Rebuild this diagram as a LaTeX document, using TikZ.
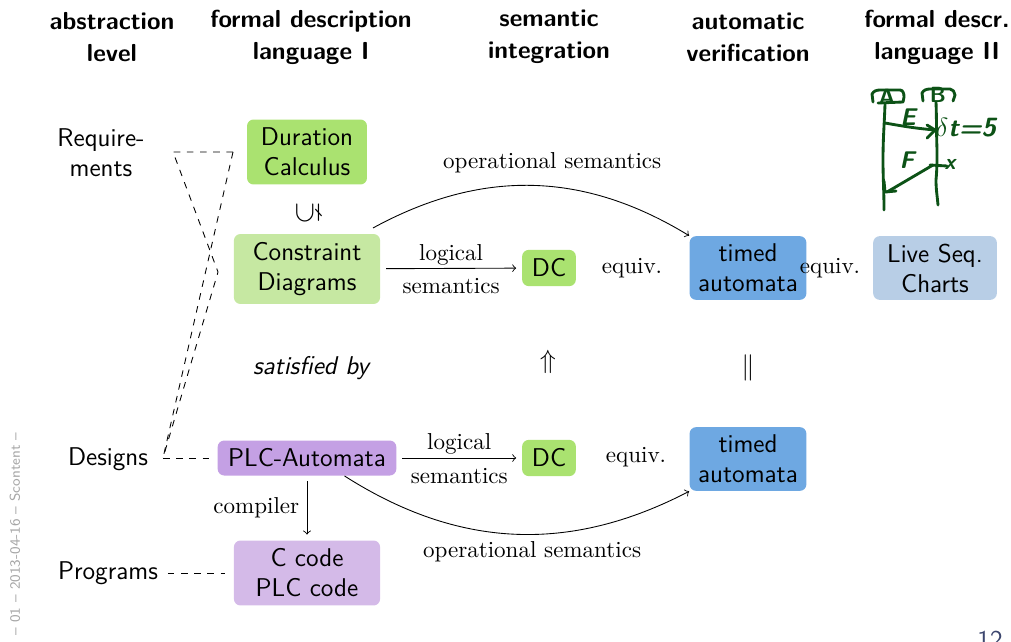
\documentclass[tikz,border=0pt]{standalone}
\usepackage{amssymb}
\usepackage{tikz}
\usetikzlibrary{positioning,arrows}

\definecolor{dcgreen}{RGB}{170,226,112}
\definecolor{cdgreen}{RGB}{198,232,162}
\definecolor{plcviolet}{RGB}{196,160,228}
\definecolor{codeviolet}{RGB}{212,186,232}
\definecolor{tablue}{RGB}{110,168,226}
\definecolor{lscblue}{RGB}{184,206,230}
\definecolor{ink}{RGB}{12,82,22}

\begin{document}
\begin{tikzpicture}[x=0.016cm,y=-0.016cm]
	    \tikzstyle{every node}=[font=\sffamily\fontsize{11.7}{13.7}\selectfont]
	    \tikzstyle{head}=[font=\sffamily\bfseries\fontsize{11.2}{14.6}\selectfont,align=center]
	    \tikzstyle{box}=[rounded corners=3pt,align=center,inner sep=0pt]
	    \tikzstyle{lbl}=[font=\rmfamily\fontsize{10.5}{12}\selectfont]
	    \tikzstyle{sem}=[->,shorten >=2.5pt,shorten <=2.5pt]
	    \tikzstyle{hand}=[ink,line width=1.3pt,line cap=round,line join=round]
	    \useasboundingbox (0,0) rectangle (1011,641);

	    \node[head] (hlevel) at (112,37) {abstraction\\level};
	    \node[head] (hfdl) at (311,37) {formal description\\language I};
	    \node[head] (hsem) at (549,37) {semantic\\integration};
	    \node[head] (hver) at (748,37) {automatic\\verification};
	    \node[head] (hfdlb) at (937,37) {formal descr.\\language II};

	    \node[align=center] (req) at (101,153) {Require-\\ments};
	    \node (des) at (108,459) {Designs};
	    \node (prog) at (108,573) {Programs};

	    \node[box,fill=dcgreen,minimum width=1.92cm,minimum height=1.04cm] (durcalc) at (307,152) {Duration\\Calculus};
	    \node[box,fill=cdgreen,minimum width=2.34cm,minimum height=1.12cm] (cd) at (307,269) {Constraint\\Diagrams};
	    \node[box,fill=dcgreen,minimum width=0.86cm,minimum height=0.58cm] (dca) at (549,268) {DC};
	    \node[box,fill=tablue,minimum width=1.87cm,minimum height=1.02cm] (taa) at (748,268) {timed\\automata};
	    \node[box,fill=lscblue,minimum width=1.98cm,minimum height=1.02cm] (lsc) at (935,268) {Live Seq.\\Charts};
	    \node[box,fill=plcviolet,minimum width=2.86cm,minimum height=0.56cm] (plc) at (307,458) {PLC-Automata};
	    \node[box,fill=dcgreen,minimum width=0.86cm,minimum height=0.58cm] (dcb) at (549,458) {DC};
	    \node[box,fill=tablue,minimum width=1.87cm,minimum height=1.02cm] (tab) at (748,459) {timed\\automata};
	    \node[box,fill=codeviolet,minimum width=2.34cm,minimum height=1.04cm] (code) at (307,573) {C code\\PLC code};

	    \node[font=\fontsize{13.5}{14}\selectfont] (subset) at (308,213) {\rotatebox{90}{$\subsetneq$}};
	    \node[font=\sffamily\slshape\fontsize{11.7}{13.7}\selectfont] (sat) at (311,368) {satisfied by};
	    \node (impl) at (548,362) {$\Uparrow$};
	    \node (same) at (748,368) {$\|$};

	    \node[lbl] (eqa) at (632,268) {equiv.};
	    \node[lbl] (eqb) at (830,268) {equiv.};
	    \node[lbl] (eqc) at (636,457) {equiv.};

	    \draw[sem] (cd) -- node[lbl,above,yshift=-2pt] {logical} node[lbl,below,yshift=-1pt] {semantics} (dca);
	    \draw[sem] (plc) -- node[lbl,above,yshift=-2pt] {logical} node[lbl,below,yshift=-1pt] {semantics} (dcb);
	    \draw[sem] (plc) -- node[lbl,left] {compiler} (code);
	    \draw[->] ([xshift=-0.12cm,yshift=0.09cm]cd.north east) to[bend left=30] node[lbl,midway,above=2pt,xshift=0.32cm] {operational semantics} (taa.north west);
	    \draw[->] ([xshift=0.6cm]plc.south) to[bend right=30] node[lbl,midway,below=0pt,xshift=0.28cm] {operational semantics} (tab.south west);

	    \coordinate (rtop) at (233,152);
	    \coordinate (rleft) at (173,152);
	    \coordinate (rmid) at (218,272);
	    \coordinate (dcorner) at (163,458);
	    \draw[dashed] (rtop) -- (rleft) -- (rmid) -- (dcorner);
	    \draw[dashed] (rtop) -- (dcorner);
	    \draw[dashed,shorten >=1.5pt] (dcorner) -- (plc.west);
	    \draw[dashed,shorten <=1pt,shorten >=4pt] (prog) -- (code);

	    % hand drawn sketch
	    \draw[hand] (873,102) -- (872,94) to[out=60,in=180] (880,90) -- (900,90) to[out=0,in=90] (904,97) -- (903,102) -- (878,103);
	    \draw[hand] (923,101) -- (922,93) to[out=60,in=180] (930,89) -- (950,89) to[out=0,in=100] (955,95) -- (953,101);
	    \node[ink,font=\sffamily\bfseries\fontsize{10}{10}\selectfont] (ha) at (887,97) {A};
	    \node[ink,font=\sffamily\bfseries\fontsize{10}{10}\selectfont] (hb) at (938,95) {B};
	    \draw[hand] (885,104) to[out=-92,in=90] (883,160) to[out=-90,in=90] (884,210);
	    \draw[hand] (936,102) to[out=-88,in=92] (937,150) to[out=-90,in=85] (936,180) to[out=-90,in=95] (938,205);
	    \draw[hand] (885,123) to[out=-10,in=175] (935,130);
	    \draw[hand] (927,125) -- (935,130) -- (927,138);
	    \draw[hand] (933,165) -- (887,192);
	    \draw[hand] (884,181) -- (885,192) -- (896,191);
	    \draw[hand] (930,165) -- (947,166);
	    \node[ink,font=\sffamily\bfseries\slshape\fontsize{11}{11}\selectfont] (he) at (908,117) {E};
	    \node[ink,font=\sffamily\bfseries\slshape\fontsize{11}{11}\selectfont] (hf) at (907,160) {F};
	    \node[ink,font=\sffamily\bfseries\slshape\fontsize{10}{10}\selectfont] (hx) at (950,164) {x};
	    \node[ink,font=\sffamily\bfseries\slshape\fontsize{12}{12}\selectfont] (hdt) at (966,128) {$\delta$t=5};

	    \node[rotate=90,text=black!35,font=\sffamily\fontsize{6.5}{7}\selectfont] (foot) at (15,534) {-- 01 -- 2013-04-16 -- Scontent --};
	    \node[anchor=north,inner sep=0pt,text={rgb,255:red,60;green,70;blue,110}] (page) at (990,631) {12};
\end{tikzpicture}
\end{document}
